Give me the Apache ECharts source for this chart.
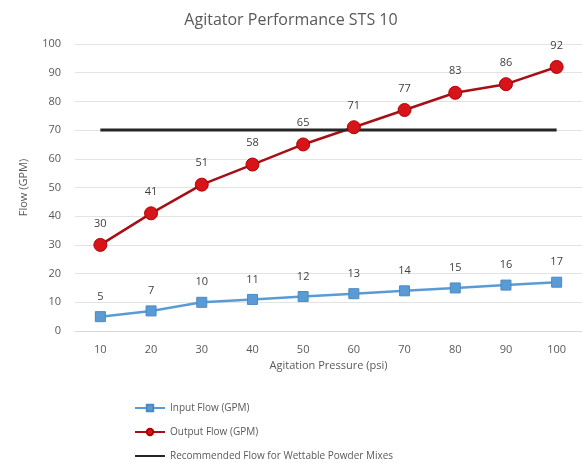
<!DOCTYPE html>
<html>
<head>
<meta charset="utf-8">
<script src="https://cdn.jsdelivr.net/npm/echarts@6/dist/echarts.min.js"></script>
<style>
  html, body { margin: 0; padding: 0; background: #fff; }
  #chart { width: 582px; height: 463px; }
</style>
</head>
<body>
<div id="chart"></div>
<script>
const pressures = ["10", "20", "30", "40", "50", "60", "70", "80", "90", "100"];
const inputFlow = [5, 7, 10, 11, 12, 13, 14, 15, 16, 17];
const outputFlow = [30, 41, 51, 58, 65, 71, 77, 83, 86, 92];
const recommendedFlow = [70, 70, 70, 70, 70, 70, 70, 70, 70, 70];

const chart = echarts.init(document.getElementById("chart"));
const labelStyle = {
  show: true,
  position: "top",
  distance: 9,
  color: "#404040",
  fontSize: 11,
  fontFamily: "Open Sans",
};
const option = {
  animation: false,
  textStyle: { fontFamily: "Open Sans" },
  title: {
    text: "Agitator Performance STS 10",
    left: "center",
    top: 7,
    textStyle: { color: "#595959", fontSize: 16, fontWeight: "normal" },
  },
  legend: {
    orient: "vertical",
    left: 134,
    top: 402,
    padding: 0,
    itemGap: 12,
    itemWidth: 30,
    itemHeight: 8,
    textStyle: { color: "#595959", fontSize: 10, lineHeight: 12 },
    data: [
      "Input Flow (GPM)",
      "Output Flow (GPM)",
      { name: "Recommended Flow for Wettable Powder Mixes", itemStyle: { opacity: 0 } },
    ],
  },
  grid: { left: 75, right: 0, top: 44, bottom: 132 },
  xAxis: {
    type: "category",
    data: pressures,
    name: "Agitation Pressure (psi)",
    nameLocation: "middle",
    nameGap: 28,
    nameTextStyle: { color: "#595959", fontSize: 11 },
    axisLine: { lineStyle: { color: "#d9d9d9" } },
    axisTick: { show: false },
    axisLabel: { color: "#595959", fontSize: 11, margin: 13 },
  },
  yAxis: {
    type: "value",
    min: 0,
    max: 100,
    interval: 10,
    name: "Flow (GPM)",
    nameLocation: "middle",
    nameGap: 46,
    nameTextStyle: { color: "#595959", fontSize: 11 },
    axisLine: { show: false },
    axisTick: { show: false },
    axisLabel: { color: "#595959", fontSize: 11, margin: 14 },
    splitLine: { lineStyle: { color: "#e3e3e3" } },
  },
  series: [
    {
      name: "Input Flow (GPM)",
      type: "line",
      data: inputFlow,
      symbol: "rect",
      symbolSize: 10,
      lineStyle: { color: "#5b9bd5", width: 2.5 },
      itemStyle: { color: "#5b9bd5", borderColor: "#4a8ac4", borderWidth: 1 },
      label: labelStyle,
    },
    {
      name: "Output Flow (GPM)",
      type: "line",
      data: outputFlow,
      symbol: "circle",
      symbolSize: 13,
      lineStyle: { color: "#a50f15", width: 2.5 },
      itemStyle: { color: "#d7141a", borderColor: "#b00000", borderWidth: 1 },
      label: labelStyle,
    },
    {
      name: "Recommended Flow for Wettable Powder Mixes",
      type: "line",
      data: recommendedFlow,
      symbol: "none",
      lineStyle: { color: "#262626", width: 3 },
      itemStyle: { color: "#262626" },
    },
  ],
};
chart.setOption(option);
</script>
</body>
</html>
